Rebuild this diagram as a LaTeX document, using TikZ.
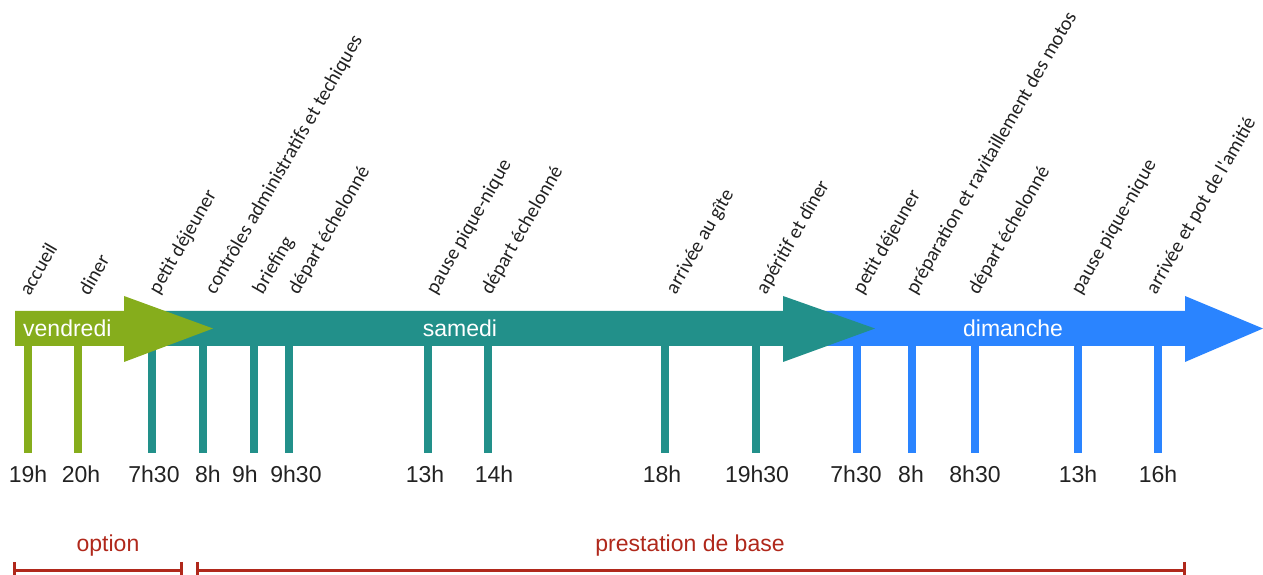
\documentclass[tikz,border=0pt]{standalone}
\usepackage{fontspec}
\setmainfont{Liberation Sans}
\newfontfamily\etapefont{Carlito}
\usetikzlibrary{arrows.meta}

\definecolor{vert}{HTML}{86AD1C}
\definecolor{sarcelle}{HTML}{22908A}
\definecolor{bleu}{HTML}{2A84FF}
\definecolor{brique}{HTML}{B0281B}
\definecolor{encre}{HTML}{222222}

\tikzset{
  jour/.style={text=white, font=\fontsize{23}{23}\selectfont, inner sep=0pt},
  heure/.style={text=encre, font=\fontsize{23}{23}\selectfont, inner sep=0pt},
  etape/.style={text=encre, font=\etapefont\fontsize{20}{20}\selectfont,
    rotate=60, anchor=south west, inner sep=0pt},
  repere/.style={line width=8pt},
  crochet/.style={brique, line width=3pt, {Bar[width=18pt]}-{Bar[width=18pt]}},
  legende/.style={text=brique, font=\fontsize{23}{23}\selectfont, inner sep=0pt}
}

\begin{document}
\begin{tikzpicture}[x=1pt, y=1pt]
    \useasboundingbox (0,0) rectangle (1263,575);

    % Reperes verticaux, heures et etapes
    \foreach \x/\h/\hx/\ex/\c/\txt [count=\i] in {
        28/19h/28/30/vert/accueil,
        78/20h/81/89/vert/diner,
        152/7h30/154/162/sarcelle/petit déjeuner,
        203/8h/208/218/sarcelle/contrôles administratifs et techiques,
        254/9h/245/266/sarcelle/briefing,
        289/9h30/296/301/sarcelle/départ échelonné,
        428/13h/425/439/sarcelle/pause pique-nique,
        488/14h/494/494/sarcelle/départ échelonné,
        665/18h/662/679/sarcelle/arrivée au gîte,
        756/19h30/757/769/sarcelle/apéritif et dîner,
        857/7h30/856/866/bleu/petit déjeuner,
        912/8h/911/919/bleu/préparation et ravitaillement des motos,
        975/8h30/975/981/bleu/départ échelonné,
        1078/13h/1078/1084/bleu/pause pique-nique,
        1158/16h/1158/1159/bleu/arrivée et pot de l'amitié} {
        \draw[repere, \c] (\x,240) -- (\x,122);
        \node[heure] (h\i) at (\hx,101) {\h};
        \node[etape] (e\i) at (\ex,278) {\txt};
    }

    % Fleche dimanche
    \fill[bleu] (820,264) -- (1185,264) -- (1185,279) -- (1263,246.5)
        -- (1185,213) -- (1185,229) -- (820,229) -- cycle;
    % Fleche samedi
    \fill[sarcelle] (150,264) -- (783,264) -- (783,279) -- (875,246.5)
        -- (783,213) -- (783,229) -- (150,229) -- cycle;
    % Fleche vendredi
    \fill[vert] (15,264) -- (124,264) -- (124,279) -- (213,246.5)
        -- (124,213) -- (124,229) -- (15,229) -- cycle;

    % Noms des jours
    \node[jour, anchor=west] (ven) at (23,246.5) {vendredi};
    \node[jour] (sam) at (460,246.5) {samedi};
    \node[jour] (dim) at (1013,246.5) {dimanche};

    % Periodes
    \node[legende] (opt) at (108,29) {option};
    \node[legende] (base) at (690,29) {prestation de base};
    \draw[crochet] (13,4) -- (183,4);
    \draw[crochet] (196,4) -- (1186,4);
\end{tikzpicture}
\end{document}
